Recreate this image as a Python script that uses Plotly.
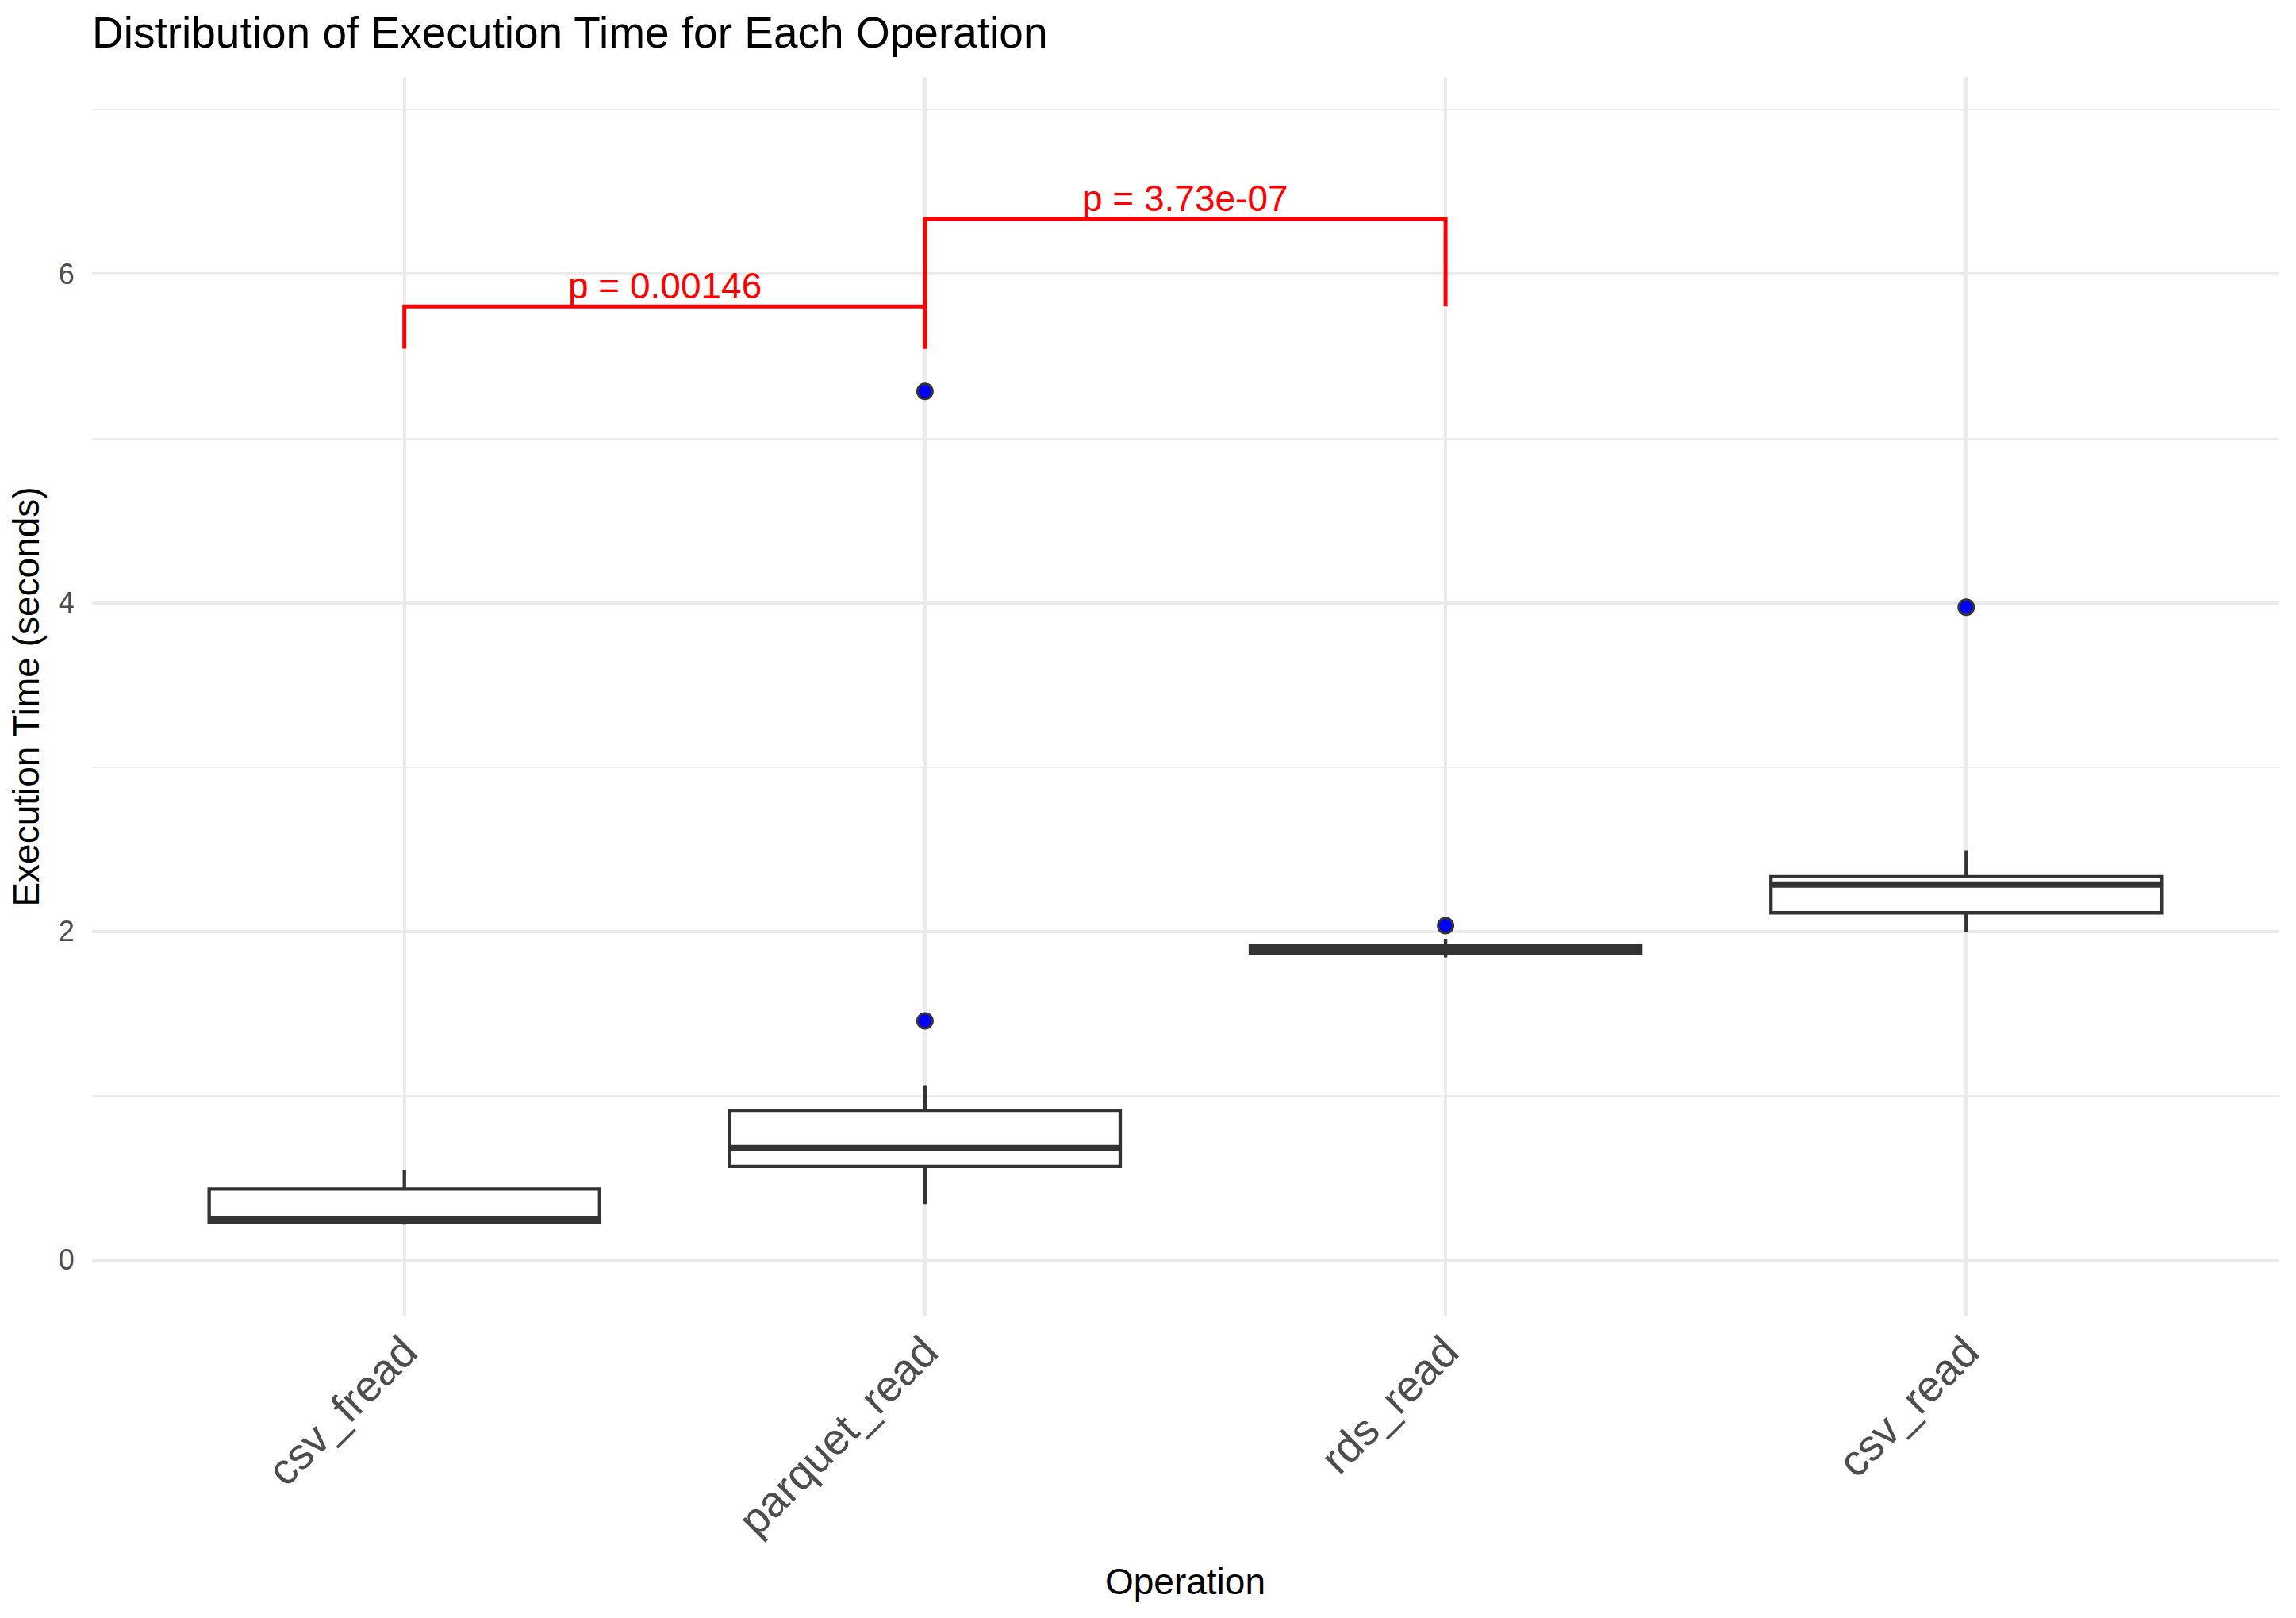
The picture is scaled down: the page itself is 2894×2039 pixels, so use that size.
import plotly.graph_objects as go

# ---- data ----
operations = ["csv_fread", "parquet_read", "rds_read", "csv_read"]
q1 = [0.232, 0.569, 1.868, 2.113]
median = [0.245, 0.681, 1.890, 2.284]
q3 = [0.432, 0.911, 1.916, 2.332]
lower_whisker = [0.215, 0.341, 1.842, 1.998]
upper_whisker = [0.546, 1.064, 1.955, 2.494]

outlier_ops = ["parquet_read", "parquet_read", "rds_read", "csv_read"]
outlier_vals = [1.455, 5.286, 2.035, 3.973]

comparisons = [("csv_fread", "parquet_read"), ("parquet_read", "rds_read")]
p_labels = ["p = 0.00146", "p = 3.73e-07"]
bracket_top = [5.803, 6.335]
bracket_left_bottom = [5.546, 5.546]
bracket_right_bottom = [5.546, 5.803]

FONT = "Liberation Sans, Arial, Helvetica, sans-serif"
BOX_W = 0.75

fig = go.Figure()

fig.add_trace(go.Box(
    x=operations, q1=q1, median=median, q3=q3,
    lowerfence=lower_whisker, upperfence=upper_whisker,
    fillcolor="white", line=dict(color="#333333", width=4.3),
    width=BOX_W, whiskerwidth=0, boxpoints=False,
    showlegend=False, hoverinfo="skip",
))

# thicker median lines (ggplot fatten)
for i, m in enumerate(median):
    fig.add_shape(type="line", xref="x", yref="y",
                  x0=i - BOX_W / 2, x1=i + BOX_W / 2, y0=m, y1=m,
                  line=dict(color="#333333", width=8))

fig.add_trace(go.Scatter(
    x=outlier_ops, y=outlier_vals, mode="markers",
    marker=dict(size=19, color="blue", line=dict(color="#333333", width=3)),
    showlegend=False, hoverinfo="skip",
))

for (a, b), top, lb, rb, lab in zip(comparisons, bracket_top,
                                      bracket_left_bottom, bracket_right_bottom, p_labels):
    fig.add_trace(go.Scatter(
        x=[a, a, b, b], y=[lb, top, top, rb], mode="lines",
        line=dict(color="red", width=5), showlegend=False, hoverinfo="skip",
    ))
    xm = (operations.index(a) + operations.index(b)) / 2
    fig.add_annotation(x=xm, y=top, xref="x", yref="y", text=lab,
                       showarrow=False, yanchor="bottom", yshift=-2,
                       font=dict(family=FONT, size=46, color="red"))

fig.update_layout(
    width=2894, height=2039,
    margin=dict(l=116, r=22, t=97, b=380),
    paper_bgcolor="white", plot_bgcolor="white",
    font=dict(family=FONT),
    title=dict(text="Distribution of Execution Time for Each Operation",
               x=116 / 2894, xref="container", xanchor="left",
               y=1 - 41 / 2039, yref="container", yanchor="middle",
               font=dict(family=FONT, size=55, color="black")),
    xaxis=dict(
        type="category", categoryorder="array", categoryarray=operations,
        range=[-0.6, 3.6], showgrid=True, gridcolor="#EBEBEB", gridwidth=4,
        zeroline=False, showline=False,
        ticks="", ticklen=0,
        tickangle=-45, tickfont=dict(family=FONT, size=55, color="#4D4D4D"),
        title=dict(text="Operation", standoff=30,
                   font=dict(family=FONT, size=46, color="black")),
        automargin=False,
    ),
    yaxis=dict(
        range=[-0.344, 7.2], tickvals=[0, 2, 4, 6],
        showgrid=True, gridcolor="#EBEBEB", gridwidth=4,
        minor=dict(tickvals=[1, 3, 5, 7], showgrid=True,
                   gridcolor="#EBEBEB", gridwidth=2.2),
        zeroline=False, showline=False,
        ticks="outside", ticklen=14, tickcolor="rgba(0,0,0,0)",
        tickfont=dict(family=FONT, size=36, color="#4D4D4D"),
        title=dict(text="Execution Time (seconds)", standoff=9,
                   font=dict(family=FONT, size=46, color="black")),
        automargin=False,
    ),
)

fig.write_html("out.html", config={"displayModeBar": False},
               post_script="document.body.style.margin='0';")
